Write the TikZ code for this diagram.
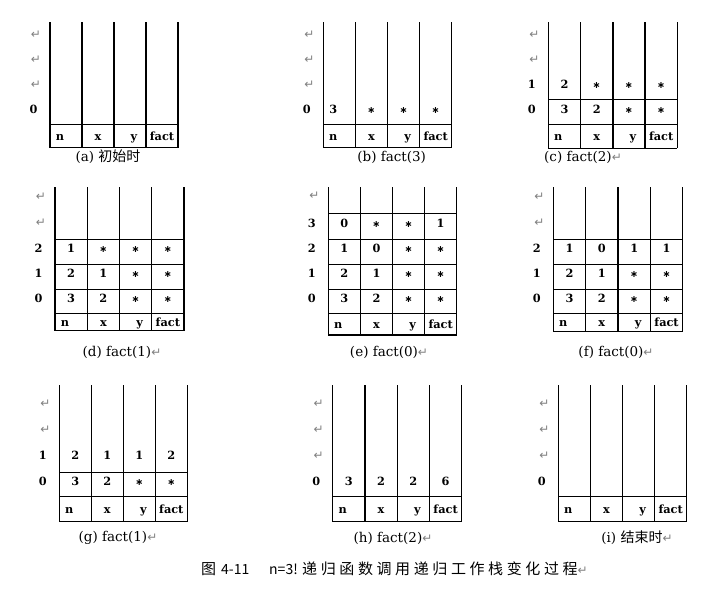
\documentclass[tikz,border=0pt]{standalone}
\usepackage{fontspec}
\setmainfont{DejaVu Serif}
\newfontfamily\cjk{Noto Sans CJK SC}
\newfontfamily\symf{DejaVu Sans}
\newcommand{\st}{{\symf\bfseries\fontsize{9.5}{9.5}\selectfont ∗}}
\newcommand{\retg}{{\symf\color{black!50}\fontsize{12}{12}\selectfont ↵}}
\tikzset{
  frameline/.style={line width=1.4pt, black},
  hline/.style={line width=1.2pt, black},
  cellt/.style={font=\bfseries\fontsize{11.3}{12}\selectfont, inner sep=0pt, anchor=base},
  lab/.style={font=\bfseries\fontsize{11.3}{12}\selectfont, inner sep=0pt, anchor=base},
  retm/.style={inner sep=0pt},
  captxt/.style={font=\fontsize{13.5}{14}\selectfont, inner sep=0pt},
}
% name, L, w, T, H, B
\newcommand{\stackframe}[6]{%
  \foreach \i in {0,...,4}{\draw[frameline] ({#2+\i*#3},#4) -- ({#2+\i*#3},#6);}
  \draw[hline] (#2,#5) -- ({#2+4*#3},#5);
  \draw[hline] (#2,#6) -- ({#2+4*#3},#6);
  \node[cellt] (#1-hn) at ({#2+10},{(#5+#6)/2+4}) {n};
  \node[cellt] (#1-hx) at ({#2+1.5*#3},{(#5+#6)/2+4}) {x};
  \node[cellt] (#1-hy) at ({#2+2.5*#3+4},{(#5+#6)/2+4}) {y};
  \node[cellt] (#1-hf) at ({#2+3.5*#3},{(#5+#6)/2+4}) {fact};
}
% L, w, y
\newcommand{\rowline}[3]{\draw[hline] (#1,#3) -- ({#1+4*#2},#3);}
% name, L, w, y, a, b, c, d
\newcommand{\datarow}[8]{%
  \node[cellt] (#1a) at ({#2+0.5*#3},{#4+4}) {#5};
  \node[cellt] (#1b) at ({#2+1.5*#3},{#4+4}) {#6};
  \node[cellt] (#1c) at ({#2+2.5*#3},{#4+4}) {#7};
  \node[cellt] (#1d) at ({#2+3.5*#3},{#4+4}) {#8};
}
% name, L, y, text
\newcommand{\rowlab}[4]{\node[lab] (#1) at ({#2-16.5},{#3+4}) {#4};}
\newcommand{\rowret}[3]{\node[retm] (#1) at ({#2-14},#3) {\retg};}
\begin{document}
\begin{tikzpicture}[x=1pt,y=-1pt]
\useasboundingbox[fill=white] (0,0) rectangle (714,590);

% (a)
\stackframe{a}{50}{32}{22}{124.3}{147.7}
\rowlab{a-l0}{50}{109.3}{0}
\rowret{a-r1}{50}{84.3}
\rowret{a-r2}{50}{59.3}
\rowret{a-r3}{50}{34.3}
\node[captxt] (a-cap) at (108,157) {(a)\ {\cjk\fontsize{14}{14}\selectfont 初始时}};

% (b)
\stackframe{b}{323.3}{32.1}{22}{124.3}{147.7}
\datarow{b0}{323.3}{32.1}{109.3}{\hspace*{-12pt}3}{\st}{\st}{\st}
\rowlab{b-l0}{323.3}{109.3}{0}
\rowret{b-r1}{323.3}{84.3}
\rowret{b-r2}{323.3}{59.3}
\rowret{b-r3}{323.3}{34.3}
\node[captxt] (b-cap) at (391.7,157) {(b) fact(3)};

% (c)
\stackframe{c}{548.3}{32.25}{22}{124.3}{148.3}
\rowline{548.3}{32.25}{99.3}
\datarow{c0}{548.3}{32.25}{109.3}{3}{2}{\st}{\st}
\datarow{c1}{548.3}{32.25}{84.3}{2}{\st}{\st}{\st}
\rowlab{c-l0}{548.3}{109.3}{0}
\rowlab{c-l1}{548.3}{84.3}{1}
\rowret{c-r2}{548.3}{59.3}
\rowret{c-r3}{548.3}{34.3}
\node[captxt] (c-cap) at (583,157) {(c) fact(2)\retg};

% (d)
\stackframe{d}{55}{32.25}{187.3}{313.3}{330.7}
\rowline{55}{32.25}{289.3}
\rowline{55}{32.25}{264.3}
\rowline{55}{32.25}{239.3}
\datarow{d0}{55}{32.25}{298.3}{3}{2}{\st}{\st}
\datarow{d1}{55}{32.25}{273.3}{2}{1}{\st}{\st}
\datarow{d2}{55}{32.25}{248.3}{1}{\st}{\st}{\st}
\rowlab{d-l0}{55}{298.3}{0}
\rowlab{d-l1}{55}{273.3}{1}
\rowlab{d-l2}{55}{248.3}{2}
\rowret{d-r3}{55}{222.3}
\rowret{d-r4}{55}{196.3}
\node[captxt] (d-cap) at (122,352) {(d) fact(1)\retg};

% (e)
\stackframe{e}{328.3}{32.1}{187.3}{313.3}{335}
\rowline{328.3}{32.1}{289.3}
\rowline{328.3}{32.1}{264.3}
\rowline{328.3}{32.1}{239.3}
\rowline{328.3}{32.1}{213.3}
\datarow{e0}{328.3}{32.1}{298.3}{3}{2}{\st}{\st}
\datarow{e1}{328.3}{32.1}{273.3}{2}{1}{\st}{\st}
\datarow{e2}{328.3}{32.1}{248.3}{1}{0}{\st}{\st}
\datarow{e3}{328.3}{32.1}{223.3}{0}{\st}{\st}{1}
\rowlab{e-l0}{328.3}{298.3}{0}
\rowlab{e-l1}{328.3}{273.3}{1}
\rowlab{e-l2}{328.3}{248.3}{2}
\rowlab{e-l3}{328.3}{223.3}{3}
\rowret{e-r4}{328.3}{195.5}
\node[captxt] (e-cap) at (389,352.7) {(e) fact(0)\retg};

% (f)
\stackframe{f}{553.3}{32.35}{187.3}{313.3}{331.7}
\rowline{553.3}{32.35}{289.3}
\rowline{553.3}{32.35}{264.3}
\rowline{553.3}{32.35}{239.3}
\datarow{f0}{553.3}{32.35}{298.3}{3}{2}{\st}{\st}
\datarow{f1}{553.3}{32.35}{273.3}{2}{1}{\st}{\st}
\datarow{f2}{553.3}{32.35}{248.3}{1}{0}{1}{1}
\rowlab{f-l0}{553.3}{298.3}{0}
\rowlab{f-l1}{553.3}{273.3}{1}
\rowlab{f-l2}{553.3}{248.3}{2}
\rowret{f-r3}{553.3}{222.3}
\rowret{f-r4}{553.3}{196.3}
\node[captxt] (f-cap) at (616,352) {(f) fact(0)\retg};

% (g)
\stackframe{g}{59.3}{32}{385}{496.7}{521.7}
\rowline{59.3}{32}{472.7}
\datarow{g0}{59.3}{32}{481.7}{3}{2}{\st}{\st}
\datarow{g1}{59.3}{32}{455.7}{2}{1}{1}{2}
\rowlab{g-l0}{59.3}{481.7}{0}
\rowlab{g-l1}{59.3}{455.7}{1}
\rowret{g-r2}{59.3}{430}
\rowret{g-r3}{59.3}{403.3}
\node[captxt] (g-cap) at (118,538.3) {(g) fact(1)\retg};

% (h)
\stackframe{h}{332.7}{32.25}{385}{496.7}{521.7}
\datarow{h0}{332.7}{32.25}{481.7}{3}{2}{2}{6}
\rowlab{h-l0}{332.7}{481.7}{0}
\rowret{h-r1}{332.7}{455.7}
\rowret{h-r2}{332.7}{430}
\rowret{h-r3}{332.7}{403.3}
\node[captxt] (h-cap) at (393,538) {(h) fact(2)\retg};

% (i)
\stackframe{i}{558.3}{32.1}{385}{496.7}{521.7}
\rowlab{i-l0}{558.3}{481.7}{0}
\rowret{i-r1}{558.3}{455.7}
\rowret{i-r2}{558.3}{430}
\rowret{i-r3}{558.3}{403.3}
\node[captxt] (i-cap) at (637,538) {(i)\ {\cjk\fontsize{14}{14}\selectfont 结束时}\retg};

% main caption
\node[inner sep=0pt, anchor=west, font=\cjk\fontsize{15}{15}\selectfont] (m1) at (201,569) {图};
\node[inner sep=0pt, anchor=west, font=\cjk\fontsize{14}{14}\selectfont] (m2) at (221,569) {4-11};
\node[inner sep=0pt, anchor=west, font=\cjk\fontsize{14}{14}\selectfont] (m3) at (269,569) {n=3!};
\node[inner sep=0pt, anchor=west, font=\cjk\fontsize{15}{15}\selectfont] (m4) at (302,569)
  {递\hspace{3.6pt}归\hspace{3.6pt}函\hspace{3.6pt}数\hspace{3.6pt}调\hspace{3.6pt}用\hspace{3.6pt}递\hspace{3.6pt}归\hspace{3.6pt}工\hspace{3.6pt}作\hspace{3.6pt}栈\hspace{3.6pt}变\hspace{3.6pt}化\hspace{3.6pt}过\hspace{3.6pt}程\retg};
\end{tikzpicture}
\end{document}
